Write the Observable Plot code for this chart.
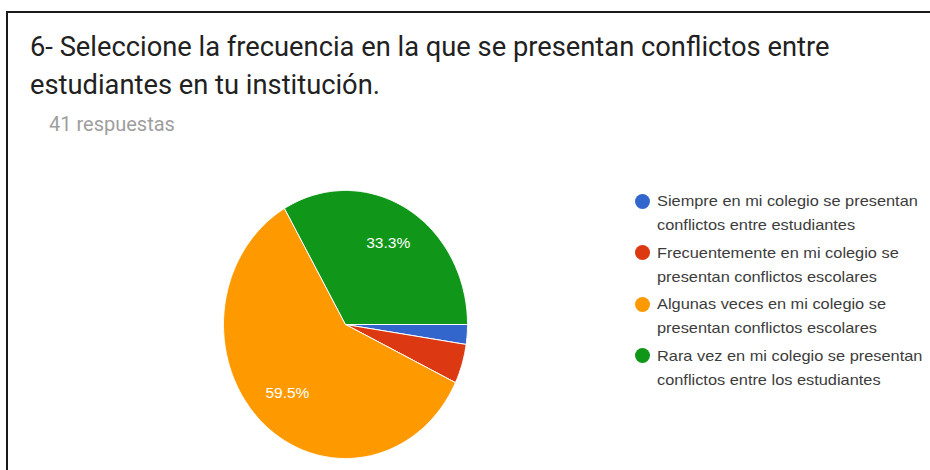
<!DOCTYPE html>
<html>
<head>
<meta charset="utf-8">
<script src="https://cdn.jsdelivr.net/npm/d3@7"></script>
<script src="https://cdn.jsdelivr.net/npm/@observablehq/plot@0.6"></script>
<style>
  html, body { margin: 0; padding: 0; background: #fff; }
  #wrap { position: relative; width: 930px; height: 470px; overflow: hidden; background: #fff; }
  #frame { position: absolute; left: 6px; top: 11px; width: 960px; height: 500px;
           border-top: 2px solid #1a1a1a; border-left: 2px solid #1a1a1a; }
  #chart { position: absolute; left: 0; top: 0; }
  #title { position: absolute; left: 30px; top: 28px; font-family: Roboto, sans-serif;
           font-size: 27.3px; line-height: 38px; color: #212121; white-space: nowrap; }
  #sub { position: absolute; left: 49px; top: 114px; font-family: Roboto, sans-serif;
         font-size: 20px; line-height: 20px; color: #9e9e9e; white-space: nowrap; }
  #legend { position: absolute; left: 635px; top: 189px; font-family: "Liberation Sans", Arial, sans-serif;
            font-size: 15px; line-height: 24px; color: #3c3c3c; }
  .item { position: relative; padding-left: 22px; height: 48px; margin-bottom: 3.5px; white-space: nowrap; }
  .txt { display: inline-block; transform: scaleX(1.09); transform-origin: 0 0; }
  .dot { position: absolute; left: 0; top: 4.5px; width: 15px; height: 15px; border-radius: 50%; }
</style>
</head>
<body>
<div id="wrap">
  <div id="frame"></div>
  <div id="chart"></div>
  <div id="title"></div>
  <div id="sub"></div>
  <div id="legend"></div>
</div>
<script>
// ---- data ----
const titleLines = [
  "6- Seleccione la frecuencia en la que se presentan conflictos entre",
  "estudiantes en tu institución."
];
const subtitle = "41 respuestas";
const categories = [
  "Siempre en mi colegio se presentan conflictos entre estudiantes",
  "Frecuentemente en mi colegio se presentan conflictos escolares",
  "Algunas veces en mi colegio se presentan conflictos escolares",
  "Rara vez en mi colegio se presentan conflictos entre los estudiantes"
];
const legendLines = [
  ["Siempre en mi colegio se presentan", "conflictos entre estudiantes"],
  ["Frecuentemente en mi colegio se", "presentan conflictos escolares"],
  ["Algunas veces en mi colegio se", "presentan conflictos escolares"],
  ["Rara vez en mi colegio se presentan", "conflictos entre los estudiantes"]
];
const counts = [1, 2, 25, 14];
const colors = ["#3366cc", "#dc3912", "#ff9900", "#109618"];
const startAngle = 90; // degrees clockwise from 12 o'clock

// ---- build slices ----
const total = d3.sum(counts);
const rad = Math.PI / 180;
const pts = [];
const labels = [];
let acc = startAngle;
categories.forEach((cat, i) => {
  const span = counts[i] / total * 360;
  const a0 = acc, a1 = acc + span;
  pts.push({cat, x: 0, y: 0});
  const n = Math.max(2, Math.ceil(span / 0.5));
  for (let k = 0; k <= n; k++) {
    const a = (a0 + (a1 - a0) * k / n) * rad;
    pts.push({cat, x: Math.sin(a), y: Math.cos(a)});
  }
  pts.push({cat, x: 0, y: 0});
  const share = counts[i] / total;
  if (share > 0.1) {
    const m = (a0 + a1) / 2 * rad;
    labels.push({x: 0.7 * Math.sin(m), y: 0.7 * Math.cos(m), text: (share * 100).toFixed(1) + "%"});
  }
  acc = a1;
});

const chart = Plot.plot({
  width: 930,
  height: 470,
  margin: 0,
  x: {domain: [-1, 1], range: [223, 467], axis: null},
  y: {domain: [-1, 1], range: [458, 190], axis: null},
  color: {domain: categories, range: colors},
  style: {background: "transparent"},
  marks: [
    Plot.line(pts, {x: "x", y: "y", z: "cat", fill: "cat", stroke: "#ffffff", strokeWidth: 1, strokeLinejoin: "round"}),
    Plot.text(labels, {x: "x", y: "y", text: "text", fill: "#ffffff", fontSize: 15.5,
      fontFamily: "'Liberation Sans', Arial, sans-serif"})
  ]
});
document.getElementById("chart").appendChild(chart);

document.getElementById("title").innerHTML = titleLines.join("<br>");
document.getElementById("sub").textContent = subtitle;
const lg = document.getElementById("legend");
categories.forEach((c, i) => {
  const it = document.createElement("div");
  it.className = "item";
  it.innerHTML = `<span class="dot" style="background:${colors[i]}"></span><span class="txt">${legendLines[i].join("<br>")}</span>`;
  lg.appendChild(it);
});
</script>
</body>
</html>
